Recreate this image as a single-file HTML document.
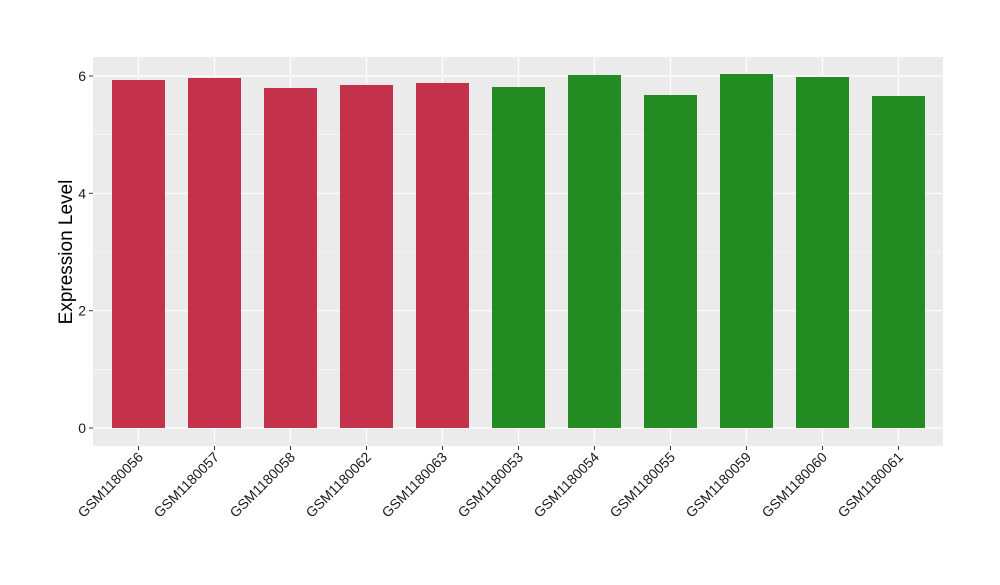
<!DOCTYPE html>
<html><head><style>body{margin:0;background:#fff}</style></head><body>
<svg width="1000" height="580" xmlns="http://www.w3.org/2000/svg" font-family="Liberation Sans, sans-serif">
<rect x="93" y="57" width="850" height="389" fill="#ebebeb"/>
<g stroke="#fff" stroke-width="0.6">
<line x1="93" x2="943" y1="369.3" y2="369.3"/><line x1="93" x2="943" y1="252" y2="252"/><line x1="93" x2="943" y1="134.7" y2="134.7"/>
</g>
<g stroke="#fff" stroke-width="1.2">
<line x1="93" x2="943" y1="428" y2="428"/><line x1="93" x2="943" y1="310.7" y2="310.7"/><line x1="93" x2="943" y1="193.3" y2="193.3"/><line x1="93" x2="943" y1="76" y2="76"/>
<line x1="138.5" x2="138.5" y1="57" y2="446"/><line x1="214.5" x2="214.5" y1="57" y2="446"/><line x1="290.5" x2="290.5" y1="57" y2="446"/><line x1="366.5" x2="366.5" y1="57" y2="446"/><line x1="442.5" x2="442.5" y1="57" y2="446"/><line x1="518.5" x2="518.5" y1="57" y2="446"/><line x1="594.5" x2="594.5" y1="57" y2="446"/><line x1="670.5" x2="670.5" y1="57" y2="446"/><line x1="746.5" x2="746.5" y1="57" y2="446"/><line x1="822.5" x2="822.5" y1="57" y2="446"/><line x1="898.5" x2="898.5" y1="57" y2="446"/>
</g>
<g fill="#c3314a">
<rect x="112" y="80" width="53" height="348"/><rect x="188" y="78" width="53" height="350"/><rect x="264" y="88" width="53" height="340"/><rect x="340" y="85" width="53" height="343"/><rect x="416" y="83" width="53" height="345"/>
</g>
<g fill="#228b22">
<rect x="492" y="87" width="53" height="341"/><rect x="568" y="75" width="53" height="353"/><rect x="644" y="95" width="53" height="333"/><rect x="720" y="74" width="53" height="354"/><rect x="796" y="77" width="53" height="351"/><rect x="872" y="96" width="53" height="332"/>
</g>
<g stroke="#333" stroke-width="1">
<line x1="89" x2="93" y1="428" y2="428"/><line x1="89" x2="93" y1="310.7" y2="310.7"/><line x1="89" x2="93" y1="193.3" y2="193.3"/><line x1="89" x2="93" y1="76" y2="76"/>
<line x1="138.5" x2="138.5" y1="446" y2="450"/><line x1="214.5" x2="214.5" y1="446" y2="450"/><line x1="290.5" x2="290.5" y1="446" y2="450"/><line x1="366.5" x2="366.5" y1="446" y2="450"/><line x1="442.5" x2="442.5" y1="446" y2="450"/><line x1="518.5" x2="518.5" y1="446" y2="450"/><line x1="594.5" x2="594.5" y1="446" y2="450"/><line x1="670.5" x2="670.5" y1="446" y2="450"/><line x1="746.5" x2="746.5" y1="446" y2="450"/><line x1="822.5" x2="822.5" y1="446" y2="450"/><line x1="898.5" x2="898.5" y1="446" y2="450"/>
</g>
<g font-size="14" fill="#1a1a1a" text-anchor="end">
<text x="86" y="433">0</text><text x="86" y="315.7">2</text><text x="86" y="198.3">4</text><text x="86" y="81">6</text>
</g>
<g font-size="14" fill="#1a1a1a" text-anchor="end">
<text transform="translate(144,458) rotate(-45)">GSM1180056</text>
<text transform="translate(220,458) rotate(-45)">GSM1180057</text>
<text transform="translate(296,458) rotate(-45)">GSM1180058</text>
<text transform="translate(372,458) rotate(-45)">GSM1180062</text>
<text transform="translate(448,458) rotate(-45)">GSM1180063</text>
<text transform="translate(524,458) rotate(-45)">GSM1180053</text>
<text transform="translate(600,458) rotate(-45)">GSM1180054</text>
<text transform="translate(676,458) rotate(-45)">GSM1180055</text>
<text transform="translate(752,458) rotate(-45)">GSM1180059</text>
<text transform="translate(828,458) rotate(-45)">GSM1180060</text>
<text transform="translate(904,458) rotate(-45)">GSM1180061</text>
</g>
<text transform="translate(72,252) rotate(-90)" font-size="19" text-anchor="middle" fill="#000">Expression Level</text>
</svg>
</body></html>
